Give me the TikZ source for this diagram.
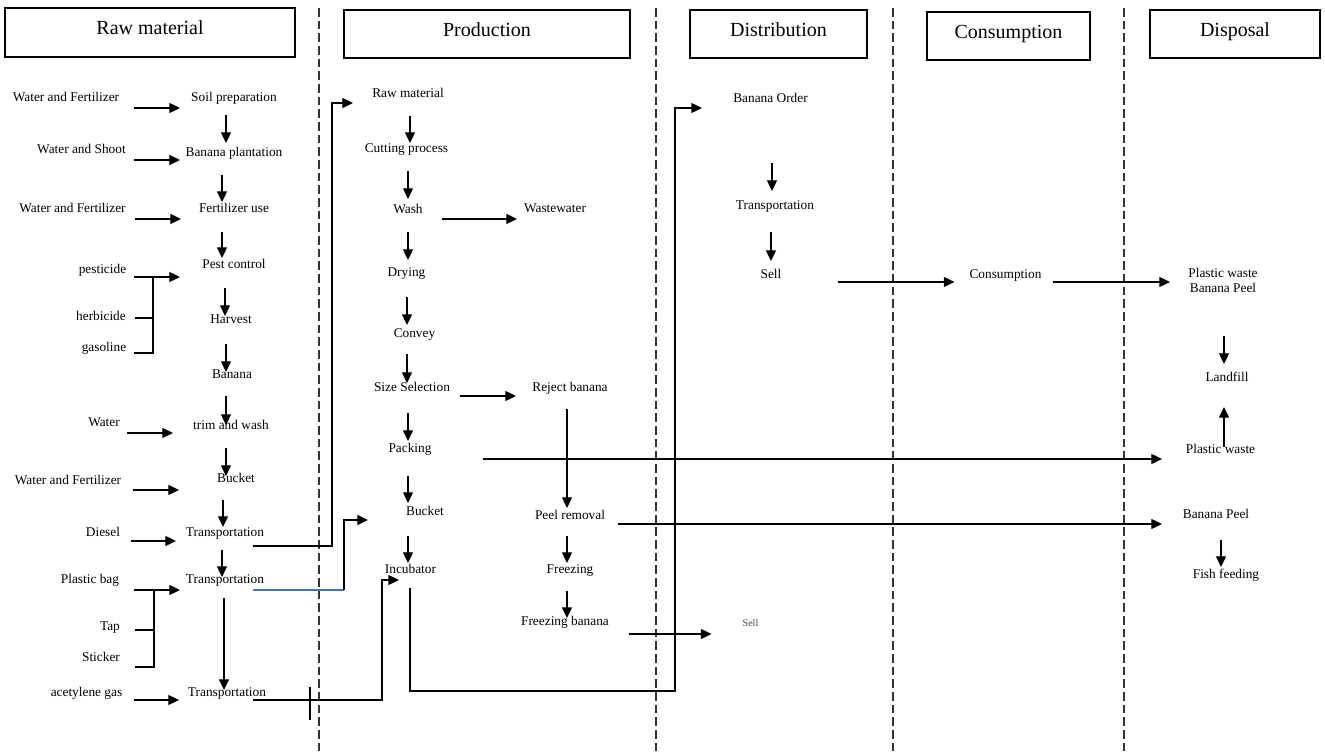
\documentclass[tikz,border=0pt]{standalone}
\usepackage{fontspec}
\setmainfont{Liberation Serif}
\usetikzlibrary{arrows.meta,calc}
\definecolor{blueline}{RGB}{68,114,196}
\begin{document}
\begin{tikzpicture}[x=0.75pt,y=-0.75pt,
  lbl/.style={inner sep=0pt, text height=7pt, text depth=2pt, font=\fontsize{10}{12}\selectfont},
  lbl2/.style={inner sep=0pt, align=center, font=\fontsize{10}{11.25}\selectfont},
  hdr/.style={draw, line width=0.8pt, inner sep=0pt, text height=10.5pt, text depth=7.3pt, font=\fontsize{15}{18}\selectfont},
  arr/.style={line width=0.9pt, -{Triangle[length=8pt,width=7.5pt]}},
  ln/.style={line width=0.9pt},
  sep/.style={line width=0.8pt, black!80, dash pattern=on 6.5pt off 3pt}]
\useasboundingbox (0,0) rectangle (1325,752);

% separators
\draw[sep] (319,8) -- (319,752);
\draw[sep] (656,8) -- (656,752);
\draw[sep] (893,8) -- (893,752);
\draw[sep] (1124,8) -- (1124,752);

% headers
\node[hdr, minimum width=217.5pt, minimum height=36.75pt] (hraw) at (150,32.5) {Raw material};
\node[hdr, minimum width=214.5pt, minimum height=36pt] (hprod) at (487,34) {Production};
\node[hdr, minimum width=132.75pt, minimum height=36pt] (hdist) at (778.5,34) {Distribution};
\node[hdr, minimum width=122.25pt, minimum height=36pt] (hcons) at (1008.5,36) {Consumption};
\node[hdr, minimum width=127.5pt, minimum height=36pt] (hdisp) at (1235,34) {Disposal};

% raw material column
\node[lbl] (wf1) at (66,98) {Water and Fertilizer};
\node[lbl] (soil) at (234,98) {Soil preparation};
\node[lbl] (ws) at (81.5,150) {Water and Shoot};
\node[lbl] (plant) at (234,153) {Banana plantation};
\node[lbl] (wf2) at (72.5,209) {Water and Fertilizer};
\node[lbl] (fert) at (234,209) {Fertilizer use};
\node[lbl] (pesti) at (102.5,270) {pesticide};
\node[lbl] (herb) at (101,317) {herbicide};
\node[lbl] (gas) at (104,348) {gasoline};
\node[lbl] (pestc) at (234,265) {Pest control};
\node[lbl] (harv) at (231,320) {Harvest};
\node[lbl] (ban) at (232,375) {Banana};
\node[lbl] (water) at (104,423) {Water};
\node[lbl] (trim) at (231,426) {trim and wash};
\node[lbl] (wf3) at (68,481) {Water and Fertilizer};
\node[lbl] (buck1) at (236,479) {Bucket};
\node[lbl] (dies) at (103,533) {Diesel};
\node[lbl] (tr1) at (225,533) {Transportation};
\node[lbl] (pbag) at (90,580) {Plastic bag};
\node[lbl] (tr2) at (225,580) {Transportation};
\node[lbl] (tap) at (110,627) {Tap};
\node[lbl] (stick) at (101,658) {Sticker};
\node[lbl] (acet) at (86.5,693) {acetylene gas};
\node[lbl] (tr3) at (227,693) {Transportation};

% production column
\node[lbl] (praw) at (408,94) {Raw material};
\node[lbl] (cut) at (406.5,149) {Cutting process};
\node[lbl] (wash) at (408,210) {Wash};
\node[lbl] (ww) at (555,209) {Wastewater};
\node[lbl] (dry) at (406.5,273) {Drying};
\node[lbl] (conv) at (414.5,334) {Convey};
\node[lbl] (size) at (412,388) {Size Selection};
\node[lbl] (rej) at (570,388) {Reject banana};
\node[lbl] (pack) at (410,449) {Packing};
\node[lbl] (buck2) at (425,512) {Bucket};
\node[lbl] (inc) at (410.5,570) {Incubator};
\node[lbl] (peel) at (570,516) {Peel removal};
\node[lbl] (frz) at (570,570) {Freezing};
\node[lbl] (fb) at (565,622) {Freezing banana};
\node[lbl, font=\fontsize{7.5}{9}\selectfont, text=black!75] (sell2) at (750.5,623) {Sell};

% distribution / consumption / disposal
\node[lbl] (order) at (770.5,99) {Banana Order};
\node[lbl] (tr4) at (775,206) {Transportation};
\node[lbl] (sell1) at (771,275) {Sell};
\node[lbl] (cons) at (1005.5,275) {Consumption};
\node[lbl2] (pwbp) at (1223,280.5) {Plastic waste\\Banana Peel};
\node[lbl] (land) at (1227,378) {Landfill};
\node[lbl] (pw2) at (1220.5,450) {Plastic waste};
\node[lbl] (bp2) at (1216,515) {Banana Peel};
\node[lbl] (fish) at (1226,575) {Fish feeding};

% raw material vertical flow
\draw[arr] ($(soil)+(-8,17)$) -- ($(plant)+(-8,-10)$);
\draw[arr] ($(plant)+(-12,22)$) -- ($(fert)+(-12,-7)$);
\draw[arr] ($(fert)+(-12,23)$) -- ($(pestc)+(-12,-7)$);
\draw[arr] ($(pestc)+(-9,23)$) -- ($(harv)+(-6,-4)$);
\draw[arr] ($(harv)+(-5,24)$) -- ($(ban)+(-6,-3)$);
\draw[arr] ($(ban)+(-6,21)$) -- ($(trim)+(-5,-1)$);
\draw[arr] ($(trim)+(-5,22)$) -- ($(buck1)+(-10,-3)$);
\draw[arr] ($(buck1)+(-13,21)$) -- ($(tr1)+(-2,-6)$);
\draw[arr] ($(tr1)+(-3,17)$) -- ($(tr2)+(-3,-3)$);
\draw[arr] ($(tr2)+(-1,18)$) -- ($(tr3)+(-3,-3)$);

% raw material inputs
\draw[arr] ($(wf1)+(68,10)$) -- ($(soil)+(-54,10)$);
\draw[arr] ($(ws)+(52.5,10)$) -- ($(plant)+(-54,7)$);
\draw[arr] ($(wf2)+(62.5,10)$) -- ($(fert)+(-53,10)$);
\draw[arr] ($(pesti)+(31.5,7)$) -- ($(pestc)+(-54,12)$);
\draw[ln] ($(herb)+(34,1)$) -- ($(herb)+(52,1)$);
\draw[ln] ($(gas)+(30,5)$) -| ($(pesti)+(50.5,7)$);
\draw[arr] ($(water)+(23,10)$) -- ($(trim)+(-58,7)$);
\draw[arr] ($(wf3)+(65,9)$) -- ($(buck1)+(-57,11)$);
\draw[arr] ($(dies)+(28,8)$) -- ($(tr1)+(-49,8)$);
\draw[arr] ($(pbag)+(44,10)$) -- ($(tr2)+(-45,10)$);
\draw[ln] ($(tap)+(25,3)$) -- ($(tap)+(44,3)$);
\draw[ln] ($(stick)+(34,9)$) -| ($(pbag)+(64,10)$);
\draw[arr] ($(acet)+(47.5,7)$) -- ($(tr3)+(-48,7)$);

% raw material -> production
\draw[arr] ($(tr1)+(28,13)$) -| ($(praw)+(-76,9)$) -- ($(praw)+(-55,9)$);
\draw[ln, blueline] ($(tr2)+(28,10)$) -- ($(buck2)+(-81,78)$);
\draw[arr] ($(buck2)+(-81,78)$) |- ($(buck2)+(-57,8)$);
\draw[arr] ($(tr3)+(26,7)$) -| ($(inc)+(-28.5,10)$) -- ($(inc)+(-11.5,10)$);
\draw[ln] ($(tr3)+(83,-6)$) -- ($(tr3)+(83,27)$);

% production flow
\draw[arr] ($(praw)+(2,22)$) -- ($(cut)+(3.5,-6)$);
\draw[arr] ($(cut)+(1.5,22)$) -- ($(wash)+(0,-11)$);
\draw[arr] ($(wash)+(0,22)$) -- ($(dry)+(1.5,-13)$);
\draw[arr] ($(dry)+(0.5,24)$) -- ($(conv)+(-7.5,-9)$);
\draw[arr] ($(conv)+(-7.5,20)$) -- ($(size)+(-5,-5)$);
\draw[arr] ($(size)+(-4,25)$) -- ($(pack)+(-2,-8)$);
\draw[arr] ($(pack)+(-2,27)$) -- ($(buck2)+(-17,-9)$);
\draw[arr] ($(buck2)+(-17,24)$) -- ($(inc)+(-2.5,-7)$);
\draw[arr] ($(rej)+(-3,21)$) -- ($(peel)+(-3,-8)$);
\draw[arr] ($(peel)+(-3,20)$) -- ($(frz)+(-3,-7)$);
\draw[arr] ($(frz)+(-3,21)$) -- ($(fb)+(2,-4)$);
\draw[arr] ($(wash)+(34,9)$) -- ($(ww)+(-38,10)$);
\draw[arr] ($(size)+(48,8)$) -- ($(rej)+(-54,8)$);
\draw[arr] ($(fb)+(64,12)$) -- ($(sell2)+(-39,11)$);
\draw[arr] ($(pack)+(73,10)$) -- ($(pw2)+(-58.5,9)$);
\draw[arr] ($(peel)+(48,8)$) -- ($(bp2)+(-54,9)$);
\draw[arr] ($(inc)+(-0.5,18)$) -- ($(inc)+(-0.5,121)$) -| ($(order)+(-95.5,9)$) -- ($(order)+(-68.5,9)$);

% distribution, consumption, disposal
\draw[arr] ($(order)+(1.5,64)$) -- ($(tr4)+(-3,-15)$);
\draw[arr] ($(tr4)+(-4,26)$) -- ($(sell1)+(0,-14)$);
\draw[arr] ($(sell1)+(67,7)$) -- ($(cons)+(-51,7)$);
\draw[arr] ($(cons)+(47.5,7)$) -- ($(pwbp)+(-53,1.5)$);
\draw[arr] ($(pwbp)+(1,55.5)$) -- ($(land)+(-3,-14)$);
\draw[arr] ($(pw2)+(3.5,-3)$) -- ($(land)+(-3,29)$);
\draw[arr] ($(bp2)+(5,25)$) -- ($(fish)+(-5,-8)$);
\end{tikzpicture}
\end{document}
